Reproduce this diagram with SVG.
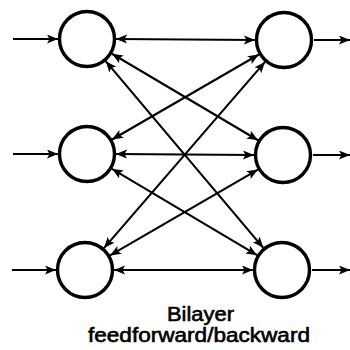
<svg xmlns="http://www.w3.org/2000/svg" width="350" height="350" viewBox="0 0 350 350">
  <style>
    .unit { fill: #ffffff; stroke: #000000; stroke-width: 3.4; }
    .link { stroke: #000000; stroke-width: 2.1; fill: none; marker-end: url(#tip); }
    .both { marker-start: url(#tip); }
    .caption { font-family: "Liberation Sans", Arial, Helvetica, sans-serif; font-size: 20px; fill: #000000; stroke: #000000; stroke-width: 0.6; text-anchor: middle; }
  </style>
  <defs>
    <marker id="tip" markerUnits="userSpaceOnUse" markerWidth="12" markerHeight="10" refX="11" refY="4.5" orient="auto-start-reverse" viewBox="0 0 12 10">
      <path d="M0,0 L11,4.5 L0,9 L2.5,4.5 Z" fill="#000000"/>
    </marker>
  </defs>

  <rect width="350" height="350" fill="#ffffff"/>

  <!-- connectors -->
  <g id="connectors">
    <!-- external inputs -->
    <line class="link" x1="13" y1="39" x2="58" y2="39"/>
    <line class="link" x1="13" y1="154" x2="58" y2="154"/>
    <line class="link" x1="12" y1="270" x2="56" y2="270"/>
    <!-- external outputs -->
    <line class="link" x1="314" y1="40" x2="350" y2="40"/>
    <line class="link" x1="313" y1="155" x2="350" y2="155"/>
    <line class="link" x1="312" y1="270" x2="350" y2="270"/>
    <!-- same-row two-way links -->
    <line class="link both" x1="116" y1="39" x2="255" y2="40"/>
    <line class="link both" x1="116" y1="154" x2="254" y2="155"/>
    <line class="link both" x1="114" y1="270" x2="253" y2="270"/>
    <!-- cross-row two-way links -->
    <line class="link both" x1="111.96" y1="53.77" x2="258.04" y2="140.23"/>
    <line class="link both" x1="105.71" y1="61.16" x2="263.29" y2="247.84"/>
    <line class="link both" x1="112.10" y1="139.47" x2="258.90" y2="54.53"/>
    <line class="link both" x1="111.92" y1="168.83" x2="257.08" y2="255.17"/>
    <line class="link both" x1="103.98" y1="248.07" x2="265.02" y2="61.93"/>
    <line class="link both" x1="110.08" y1="255.43" x2="257.92" y2="169.57"/>
  </g>

  <!-- first layer -->
  <g id="a1"><circle class="unit" cx="87" cy="39" r="27.5"/></g>
  <g id="a2"><circle class="unit" cx="87" cy="154" r="27.5"/></g>
  <g id="a3"><circle class="unit" cx="85" cy="270" r="27.5"/></g>

  <!-- second layer -->
  <g id="b1"><circle class="unit" cx="284" cy="40" r="27.5"/></g>
  <g id="b2"><circle class="unit" cx="283" cy="155" r="27.5"/></g>
  <g id="b3"><circle class="unit" cx="282" cy="270" r="27.5"/></g>

  <g id="caption">
    <text class="caption" x="200.5" y="321" textLength="67" lengthAdjust="spacingAndGlyphs">Bilayer</text>
    <text class="caption" x="199" y="342" textLength="222" lengthAdjust="spacingAndGlyphs">feedforward/backward</text>
  </g>
</svg>
